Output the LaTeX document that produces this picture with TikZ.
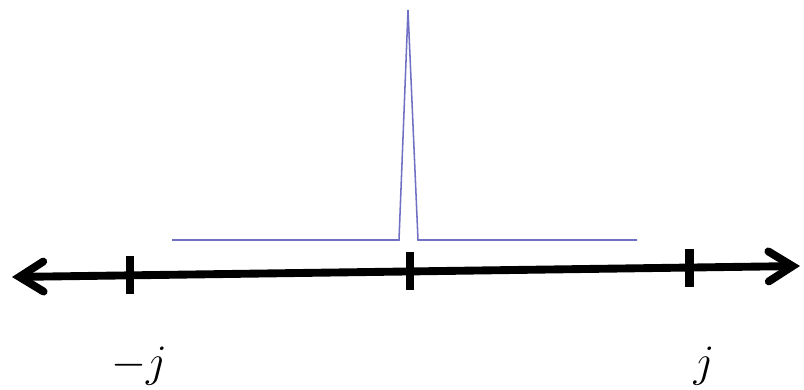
\RequirePackage{fix-cm}
\documentclass[tikz,border=0pt]{standalone}
\usepackage{tikz}
\usetikzlibrary{arrows.meta,positioning,calc}
\definecolor{spikeBlue}{RGB}{112,112,196}

\begin{document}
\begin{tikzpicture}[
    x=0.025cm, y=-0.025cm,
    axis/.style={line width=5.6pt, line cap=round, {Straight Barb[length=6mm, width=7.5mm, line cap=round]}-{Straight Barb[length=6mm, width=7.5mm, line cap=round]}},
    tickmark/.style={fill=black, inner sep=0pt, minimum width=6pt, minimum height=9.5mm},
    signal/.style={spikeBlue, line width=1.1pt, line join=miter},
    lbl/.style={inner sep=0pt, font=\fontsize{32}{38}\selectfont}
  ]
    \useasboundingbox (0,0) rectangle (804,389);
    % axis ends
    \coordinate (left) at (12,277);
    \coordinate (right) at (800,266);
    \draw[axis] (left) -- (right);
    \path (left) -- (right)
      coordinate[pos=0.1497] (t1)
      coordinate[pos=0.505] (t2)
      coordinate[pos=0.860] (t3);
    \foreach \i in {1,2,3}
      \node[tickmark] (tick\i) at (t\i) {};
    % spike
    \coordinate (s0) at (172,240);
    \coordinate (s1) at (399,240);
    \coordinate (peak) at (408,10);
    \coordinate (s2) at (418,240);
    \coordinate (s3) at (637,240);
    \draw[signal] (s0) -- (s1) -- (peak) -- (s2) -- (s3);
    % labels
    \node[lbl] (mj) at (139,366) {$-j$};
    \node[lbl] (pj) at (704,366) {$j$};
  \end{tikzpicture}
\end{document}
